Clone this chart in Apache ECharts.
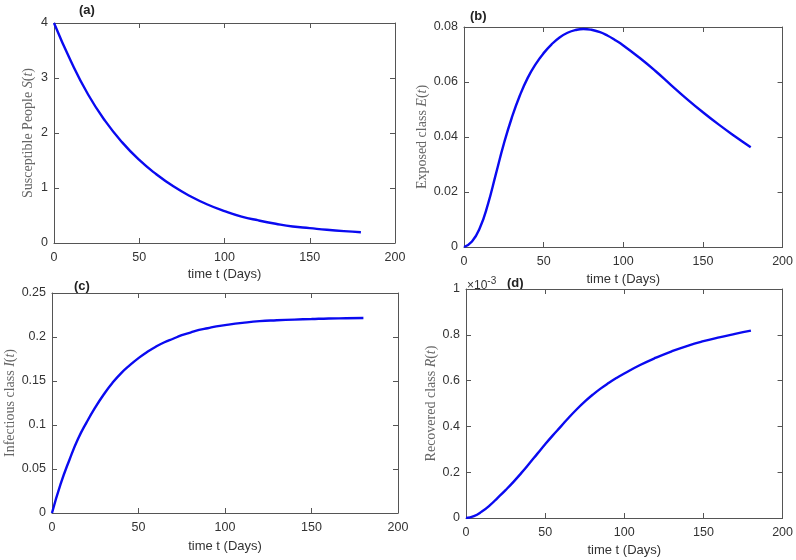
<!DOCTYPE html>
<html>
<head>
<meta charset="utf-8">
<script src="https://cdn.jsdelivr.net/npm/echarts@6/dist/echarts.min.js"></script>
<style>html,body{margin:0;padding:0;background:#fff}#c{width:796px;height:560px}</style>
</head>
<body>
<div id="c"></div>
<script>
// Panel (a): Susceptible people S(t)
const tA = [0,10,20,30,40,50,60,70,80,90,100,110,120,130,140,150,160,170,180];
const sA = [4.0,3.30,2.70,2.22,1.83,1.51,1.25,1.03,0.85,0.70,0.58,0.48,0.41,0.35,0.30,0.27,0.24,0.215,0.195];
// Panel (b): Exposed class E(t)
const tB = [0,5,10,15,20,25,30,35,40,45,50,55,60,65,70,75,80,85,90,95,100,110,120,130,140,150,160,170,180];
const eB = [0,0.002,0.007,0.0155,0.0265,0.0375,0.047,0.055,0.0615,0.0665,0.0705,0.0737,0.0762,0.0779,0.0789,0.0793,0.079,0.0782,0.0769,0.0752,0.0733,0.0689,0.0641,0.0589,0.0538,0.049,0.0445,0.0403,0.0363];
// Panel (c): Infectious class I(t)
const tC = [0,5,10,15,20,25,30,35,40,45,50,55,60,65,70,75,80,85,90,95,100,110,120,130,140,150,160,170,180];
const iC = [0,0.033,0.060,0.084,0.103,0.12,0.135,0.148,0.159,0.168,0.176,0.183,0.189,0.194,0.198,0.202,0.205,0.208,0.210,0.212,0.2135,0.216,0.218,0.219,0.2198,0.2204,0.221,0.2213,0.2216];
// Panel (d): Recovered class R(t), in units of 1e-3
const tD = [0,5,10,15,20,25,30,35,40,45,50,55,60,65,70,75,80,85,90,95,100,110,120,130,140,150,160,170,180];
const rD = [0,0.008,0.028,0.055,0.088,0.122,0.158,0.197,0.238,0.28,0.322,0.362,0.40,0.439,0.475,0.508,0.538,0.565,0.589,0.611,0.631,0.668,0.70,0.728,0.752,0.772,0.789,0.804,0.818];

const xLabel = 'time t (Days)';
const yNames = [
  '{n|Susceptible People }{i|S}{n|(}{i|t}{n|)}',
  '{n|Exposed class }{i|E}{n|(}{i|t}{n|)}',
  '{n|Infectious class }{i|I}{n|(}{i|t}{n|)}',
  '{n|Recovered class }{i|R}{n|(}{i|t}{n|)}'
];
const yMax = [4, 0.08, 0.25, 1];
const yInt = [1, 0.02, 0.05, 0.2];
const panelT = [tA, tB, tC, tD];
const panelV = [sA, eB, iC, rD];

const grids = [
  {left: 54, top: 23, width: 341, height: 220},
  {left: 464, top: 27, width: 319, height: 220},
  {left: 52, top: 293, width: 346, height: 220},
  {left: 466, top: 289, width: 318, height: 229}
];
const yGaps = [19, 34, 35, 28];
const xGaps = [25, 26, 27, 26];

const axisLineCol = '#555';
const xAxes = [], yAxes = [], series = [];
grids.forEach((g, k) => {
  const common = {
    type: 'value', gridIndex: k,
    axisLine: {show: true, onZero: false, lineStyle: {color: axisLineCol, width: 1}},
    axisTick: {show: true, inside: true, length: 5, lineStyle: {color: axisLineCol}},
    splitLine: {show: false}
  };
  xAxes.push(Object.assign({}, common, {
    position: 'bottom', min: 0, max: 200, interval: 50,
    axisLabel: {color: '#333', fontSize: 12.5, fontFamily: 'Liberation Sans, Arial', margin: 8},
    name: xLabel, nameLocation: 'middle', nameGap: xGaps[k],
    nameTextStyle: {color: '#333', fontSize: 13, fontFamily: 'Liberation Sans, Arial'}
  }));
  xAxes.push(Object.assign({}, common, {
    position: 'top', min: 0, max: 200, interval: 50, axisLabel: {show: false}
  }));
  yAxes.push(Object.assign({}, common, {
    position: 'left', min: 0, max: yMax[k], interval: yInt[k],
    axisLabel: {color: '#333', fontSize: 12.5, fontFamily: 'Liberation Sans, Arial', margin: 6},
    name: yNames[k], nameLocation: 'middle', nameGap: yGaps[k],
    nameTextStyle: {
      rich: {
        n: {fontFamily: 'Liberation Serif, Times New Roman', fontSize: 14, color: '#666'},
        i: {fontFamily: 'Liberation Serif, Times New Roman', fontSize: 14, color: '#666', fontStyle: 'italic'}
      }
    }
  }));
  yAxes.push(Object.assign({}, common, {
    position: 'right', min: 0, max: yMax[k], interval: yInt[k], axisLabel: {show: false}
  }));
  series.push({
    type: 'line', xAxisIndex: 2 * k, yAxisIndex: 2 * k, showSymbol: false,
    smooth: 0.5,
    lineStyle: {color: '#0a0af0', width: 2.4},
    data: panelT[k].map((t, i) => [t, panelV[k][i]])
  });
});

const labelStyle = {fontFamily: 'Liberation Sans, Arial', fontSize: 13, fontWeight: 'bold', fill: '#222'};
const chart = echarts.init(document.getElementById('c'), null, {renderer: 'canvas'});
chart.setOption({
  animation: false,
  backgroundColor: '#fff',
  grid: grids,
  xAxis: xAxes,
  yAxis: yAxes,
  series: series,
  graphic: [
    {type: 'text', left: 79, top: 4, style: Object.assign({text: '(a)'}, labelStyle)},
    {type: 'text', left: 470, top: 10, style: Object.assign({text: '(b)'}, labelStyle)},
    {type: 'text', left: 74, top: 280, style: Object.assign({text: '(c)'}, labelStyle)},
    {type: 'text', left: 507, top: 277, style: Object.assign({text: '(d)'}, labelStyle)},
    {type: 'text', left: 467, top: 276, style: {
      text: '{a|×10}{b|-3}',
      rich: {
        a: {fontFamily: 'Liberation Sans, Arial', fontSize: 12, fill: '#333', verticalAlign: 'bottom'},
        b: {fontFamily: 'Liberation Sans, Arial', fontSize: 10, fill: '#333', verticalAlign: 'top', padding: [0, 0, 6, 0]}
      }
    }}
  ]
});
</script>
</body>
</html>
